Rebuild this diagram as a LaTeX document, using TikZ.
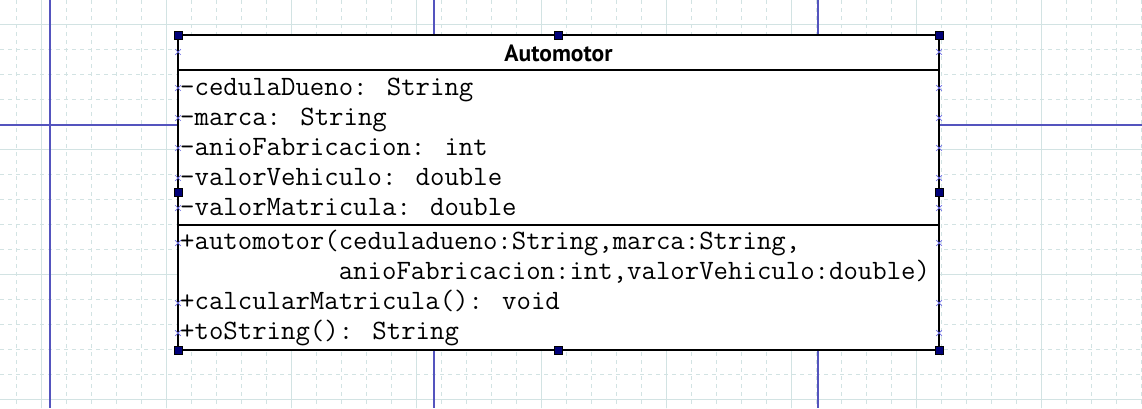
\documentclass[tikz,border=0pt]{standalone}
\usepackage{fontspec}
\setmainfont{Liberation Sans}
\setsansfont{PT Sans}
\usetikzlibrary{shapes.misc}

\definecolor{gridline}{RGB}{210,227,227}
\definecolor{pageline}{RGB}{84,84,190}
\definecolor{handlefill}{RGB}{0,0,120}
\definecolor{portmark}{RGB}{110,110,230}

\begin{document}
\begin{tikzpicture}[x=1pt, y=-1pt,
  member/.style={anchor=base west, inner sep=0pt, font=\ttfamily\fontsize{28}{30}\selectfont},
  classname/.style={anchor=base, inner sep=0pt, font=\sffamily\bfseries\fontsize{23.5}{27}\selectfont},
  handle/.style={rectangle, draw=black, line width=0.6pt, fill=handlefill, minimum size=8pt, inner sep=0pt},
  port/.style={cross out, draw=portmark, line width=0.7pt, minimum size=5pt, inner sep=0pt},
  minorgrid/.style={gridline, line width=1pt, dash pattern=on 4pt off 4pt},
  majorgrid/.style={gridline, line width=1.2pt},
  pagebreak/.style={pageline, line width=1.4pt}]
  \useasboundingbox (0,0) rectangle (1142,408);
  \fill[white] (0,0) rectangle (1142,408);

  % Grid
  \foreach \k in {0,...,45}
    \draw[minorgrid] ({16.7+25*\k},0) -- ({16.7+25*\k},408);
  \foreach \k in {0,...,16}
    \draw[minorgrid] (0,{-0.7+25*\k}) -- (1142,{-0.7+25*\k});
  \foreach \k in {0,...,8}
    \draw[majorgrid] ({41.7+125*\k},0) -- ({41.7+125*\k},408);
  \foreach \k in {0,...,3}
    \draw[majorgrid] (0,{24.3+125*\k}) -- (1142,{24.3+125*\k});

  % Page borders
  \foreach \x in {50,434,818}
    \draw[pagebreak] (\x,0) -- (\x,408);
  \draw[pagebreak] (0,125) -- (1142,125);

  % Class box
  \draw[line width=2.2pt, fill=white] (178,35) rectangle (939,350);
  \draw[line width=2.2pt] (178,70) -- (939,70);
  \draw[line width=2.2pt] (178,225) -- (939,225);

  % Class name
  \node[classname] (title) at (558.5,61.7) {Automotor};

  % Attributes
  \foreach \i/\t in {1/{-cedulaDueno: String},
                     2/{-marca: String},
                     3/{-anioFabricacion: int},
                     4/{-valorVehiculo: double},
                     5/{-valorMatricula: double}}
    \node[member] (attr\i) at (180,{65.5+30*\i}) {\t};

  % Methods
  \node[member] (meth1) at (180,249.5) {+automotor(ceduladueno:String,marca:String,};
  \node[member] (meth1b) at (180,279.5) {\hphantom{+automotor(}anioFabricacion:int,valorVehiculo:double)};
  \node[member] (meth2) at (180,309.5) {+calcularMatricula(): void};
  \node[member] (meth3) at (180,339.5) {+toString(): String};

  % Connection points
  \foreach \y in {52,88,118,148,178,208,243,303,333} {
    \node[port] (pl\y) at (178,\y) {};
    \node[port] (pr\y) at (939,\y) {};
  }

  % Selection handles
  \foreach \x/\y/\n in {178/35/1, 558.5/35/2, 939/35/3, 178/192/4,
                        939/192/5, 178/350/6, 558.5/350/7, 939/350/8}
    \node[handle] (h\n) at (\x,\y) {};
\end{tikzpicture}
\end{document}
